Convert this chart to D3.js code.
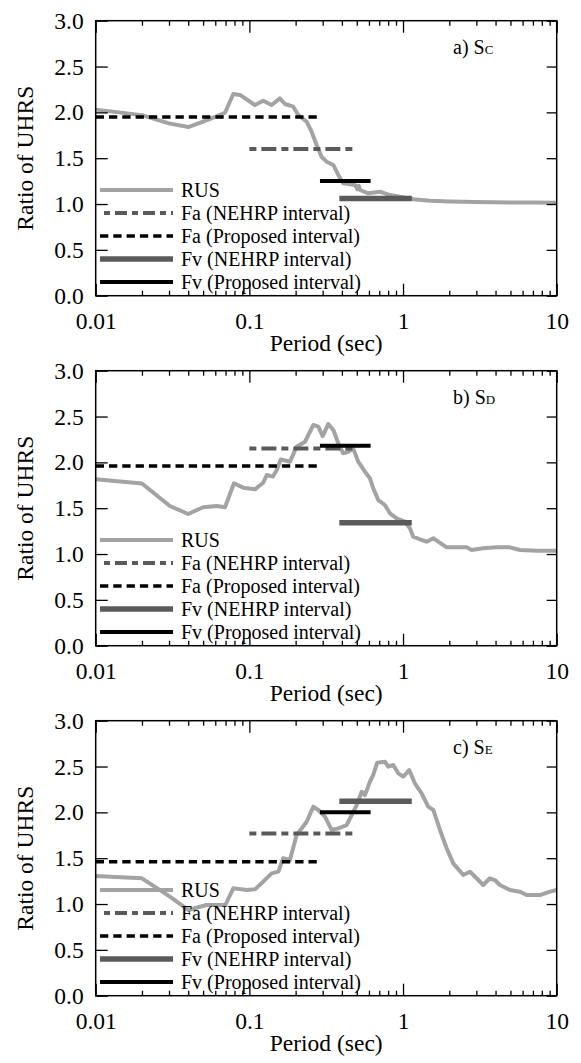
<!DOCTYPE html>
<html>
<head>
<meta charset="utf-8">
<script src="https://cdn.jsdelivr.net/npm/d3@7/dist/d3.min.js"></script>
<style>
  html, body { margin: 0; padding: 0; background: #fff; }
  svg { display: block; }
  svg text { font-family: "Liberation Serif", "Times New Roman", Times, serif; }
</style>
</head>
<body>
<svg id="chart" width="581" height="1063"></svg>
<script>
// Ratio of UHRS spectra for three site classes, with site-coefficient intervals

const siteLabels = ["a) S", "b) S", "c) S"];
const siteSubs = ["C", "D", "E"];

// RUS curves: [period (sec), ratio]
const rusSC = [
  [0.01, 2.03], [0.02, 1.97], [0.03, 1.88], [0.04, 1.84], [0.05, 1.90], [0.06, 1.95],
  [0.0694, 1.996], [0.0786, 2.20], [0.0869, 2.19], [0.1087, 2.08], [0.123, 2.127],
  [0.1396, 2.08], [0.158, 2.153], [0.1706, 2.091], [0.193, 2.062], [0.208, 1.971],
  [0.236, 1.898], [0.254, 1.789], [0.274, 1.644], [0.295, 1.516], [0.318, 1.462],
  [0.352, 1.426], [0.379, 1.317], [0.408, 1.226], [0.486, 1.208], [0.505, 1.16],
  [0.515, 1.20], [0.525, 1.153], [0.594, 1.117], [0.708, 1.135], [0.822, 1.098],
  [0.955, 1.080], [1.165, 1.052], [1.5, 1.036], [2, 1.028], [3, 1.022], [5, 1.018],
  [7, 1.016], [10, 1.015]
];
const rusSD = [
  [0.01, 1.815], [0.02, 1.77], [0.0304, 1.524], [0.040, 1.437], [0.050, 1.510],
  [0.0613, 1.524], [0.0694, 1.51], [0.0794, 1.772], [0.0912, 1.724], [0.1087, 1.706],
  [0.123, 1.778], [0.1297, 1.862], [0.142, 1.844], [0.1507, 1.917], [0.160, 2.033],
  [0.1837, 2.007], [0.203, 2.171], [0.230, 2.225], [0.261, 2.408], [0.281, 2.389],
  [0.300, 2.287], [0.326, 2.418], [0.352, 2.353], [0.379, 2.208], [0.408, 2.099],
  [0.440, 2.116], [0.474, 2.153], [0.511, 2.007], [0.565, 1.898], [0.609, 1.826],
  [0.640, 1.717], [0.690, 1.589], [0.762, 1.535], [0.822, 1.444], [0.908, 1.390],
  [1.028, 1.353], [1.109, 1.281], [1.165, 1.189], [1.321, 1.153], [1.425, 1.135],
  [1.574, 1.172], [1.695, 1.135], [1.922, 1.073], [2.594, 1.073], [2.794, 1.044],
  [3.325, 1.062], [4.06, 1.073], [4.96, 1.073], [5.77, 1.044], [7.40, 1.036], [10, 1.036]
];
const rusSE = [
  [0.01, 1.306], [0.02, 1.28], [0.0304, 1.08], [0.040, 0.935], [0.0527, 0.989],
  [0.0697, 0.989], [0.0786, 1.171], [0.0962, 1.153], [0.1087, 1.16], [0.123, 1.244],
  [0.1396, 1.335], [0.1545, 1.353], [0.166, 1.499], [0.1837, 1.480], [0.203, 1.753],
  [0.2133, 1.80], [0.236, 1.898], [0.2606, 2.062], [0.2808, 2.026], [0.3104, 1.953],
  [0.343, 1.808], [0.379, 1.826], [0.4295, 1.862], [0.463, 1.971], [0.499, 2.080],
  [0.538, 2.225], [0.565, 2.189], [0.609, 2.334], [0.640, 2.408], [0.679, 2.542],
  [0.762, 2.553], [0.801, 2.498], [0.863, 2.517], [0.931, 2.426], [1.003, 2.389],
  [1.097, 2.462], [1.194, 2.317], [1.321, 2.208], [1.459, 2.062], [1.574, 2.026],
  [1.740, 1.808], [1.922, 1.608], [2.123, 1.444], [2.466, 1.317], [2.724, 1.353],
  [3.010, 1.281], [3.325, 1.208], [3.675, 1.281], [3.962, 1.262], [4.268, 1.208],
  [4.962, 1.153], [5.768, 1.135], [6.371, 1.098], [7.78, 1.098], [9.04, 1.135], [10, 1.153]
];
const rusSeries = [rusSC, rusSD, rusSE];

// Period intervals [start, end] and coefficient levels per site class (C, D, E)
const faNehrpRange = [0.1, 0.5];
const faProposedRange = [0.01, 0.275];
const fvNehrpRange = [0.385, 1.14];
const fvProposedRange = [0.288, 0.615];
const faNehrpValues = [1.60, 2.15, 1.77];
const faProposedValues = [1.95, 1.96, 1.46];
const fvNehrpValues = [1.06, 1.34, 2.12];
const fvProposedValues = [1.25, 2.18, 2.00];

// Axis ticks
const xMajorTicks = [0.01, 0.1, 1, 10];
const xTickLabels = ["0.01", "0.1", "1", "10"];
const xMinorTicks = [2,3,4,5,6,7,8,9].flatMap(m => [m * 0.01, m * 0.1, m]);
const yTicks = [0, 0.5, 1.0, 1.5, 2.0, 2.5, 3.0];
const legendLabels = ["RUS", "Fa (NEHRP interval)", "Fa (Proposed interval)", "Fv (NEHRP interval)", "Fv (Proposed interval)"];

const FONT = "'Liberation Serif', 'Times New Roman', Times, serif";
const LIGHT = "#a3a3a3";
const DARK = "#5a5a5a";

const styles = [
  { stroke: LIGHT, width: 4, dash: null },
  { stroke: DARK, width: 4, dash: "7,5,15,5" },
  { stroke: "#000", width: 3.5, dash: "8.3,5" },
  { stroke: DARK, width: 5.5, dash: null },
  { stroke: "#000", width: 4, dash: null }
];

const svg = d3.select("#chart");
const plotLeft = 95.7, plotRight = 556.7, plotH = 275;
const panelTops = [20.7, 370.7, 720.7];

const x = d3.scaleLog().domain([0.01, 10]).range([plotLeft, plotRight]);
const y = d3.scaleLinear().domain([0, 3]).range([plotH, 0]);

panelTops.forEach((top, i) => {
  const g = svg.append("g").attr("transform", `translate(0,${top})`);

  const line = d3.line().x(d => x(d[0])).y(d => y(d[1])).curve(d3.curveLinear);

  // RUS curve
  g.append("path")
    .datum(rusSeries[i])
    .attr("d", line)
    .attr("fill", "none")
    .attr("stroke", styles[0].stroke)
    .attr("stroke-width", styles[0].width)
    .attr("stroke-linejoin", "round");

  // interval segments
  const segs = [
    { range: faNehrpRange, v: faNehrpValues[i], s: styles[1] },
    { range: faProposedRange, v: faProposedValues[i], s: styles[2] },
    { range: fvNehrpRange, v: fvNehrpValues[i], s: styles[3] },
    { range: fvProposedRange, v: fvProposedValues[i], s: styles[4] }
  ];
  segs.forEach(sg => {
    g.append("line")
      .attr("x1", x(sg.range[0])).attr("x2", x(sg.range[1]))
      .attr("y1", y(sg.v)).attr("y2", y(sg.v))
      .attr("stroke", sg.s.stroke)
      .attr("stroke-width", sg.s.width)
      .attr("stroke-dasharray", sg.s.dash);
  });

  // frame
  g.append("rect")
    .attr("x", plotLeft).attr("y", 0)
    .attr("width", plotRight - plotLeft).attr("height", plotH)
    .attr("fill", "none").attr("stroke", "#000").attr("stroke-width", 1.5);

  const styleAxis = sel => {
    sel.attr("font-family", null);
    sel.select(".domain").remove();
    sel.selectAll(".tick line").attr("stroke", "#000").attr("stroke-width", 1.3);
    sel.selectAll("text").style("font-family", FONT).style("font-size", "23.5px").attr("fill", "#000");
  };

  // bottom axis: major with labels, minor ticks
  g.append("g").attr("transform", `translate(0,${plotH})`)
    .call(d3.axisBottom(x).tickValues(xMajorTicks).tickFormat((d, k) => xTickLabels[k])
      .tickSizeInner(-12).tickSizeOuter(0).tickPadding(17))
    .call(styleAxis);
  g.append("g").attr("transform", `translate(0,${plotH})`)
    .call(d3.axisBottom(x).tickValues(xMinorTicks).tickFormat("").tickSizeInner(-5).tickSizeOuter(0))
    .call(styleAxis);

  // top axis
  g.append("g")
    .call(d3.axisTop(x).tickValues(xMajorTicks).tickFormat("").tickSizeInner(-12).tickSizeOuter(0))
    .call(styleAxis);
  g.append("g")
    .call(d3.axisTop(x).tickValues(xMinorTicks).tickFormat("").tickSizeInner(-5).tickSizeOuter(0))
    .call(styleAxis);

  // left axis
  g.append("g").attr("transform", `translate(${plotLeft},0)`)
    .call(d3.axisLeft(y).tickValues(yTicks).tickFormat(d3.format(".1f"))
      .tickSizeInner(-12).tickSizeOuter(0).tickPadding(12))
    .call(styleAxis);

  // right axis
  g.append("g").attr("transform", `translate(${plotRight},0)`)
    .call(d3.axisRight(y).tickValues(yTicks).tickFormat("").tickSizeInner(-10).tickSizeOuter(0))
    .call(styleAxis);

  // axis titles
  g.append("text")
    .attr("transform", `translate(33,${plotH / 2}) rotate(-90)`)
    .attr("text-anchor", "middle")
    .style("font-family", FONT).style("font-size", "23.5px")
    .text("Ratio of UHRS");

  g.append("text")
    .attr("x", (plotLeft + plotRight) / 2)
    .attr("y", plotH + 55)
    .attr("text-anchor", "middle")
    .style("font-family", FONT).style("font-size", "23.5px")
    .text("Period (sec)");

  // site class label
  const lab = g.append("text")
    .attr("x", 453).attr("y", 33)
    .style("font-family", FONT).style("font-size", "20px");
  lab.append("tspan").text(siteLabels[i]);
  lab.append("tspan").style("font-size", "13px").text(siteSubs[i]);

  // legend
  const leg = g.append("g");
  legendLabels.forEach((name, k) => {
    const ly = 169.3 + k * 23;
    const s = styles[k];
    leg.append("line")
      .attr("x1", 100).attr("x2", 173)
      .attr("y1", ly).attr("y2", ly)
      .attr("stroke", s.stroke)
      .attr("stroke-width", s.width)
      .attr("stroke-dasharray", k === 1 ? "6,5,12,5" : s.dash)
      .attr("stroke-dashoffset", k === 1 ? -4 : 0);
    leg.append("text")
      .attr("x", 181).attr("y", ly + 7)
      .style("font-family", FONT).style("font-size", "20px")
      .text(name);
  });
});
</script>
</body>
</html>
